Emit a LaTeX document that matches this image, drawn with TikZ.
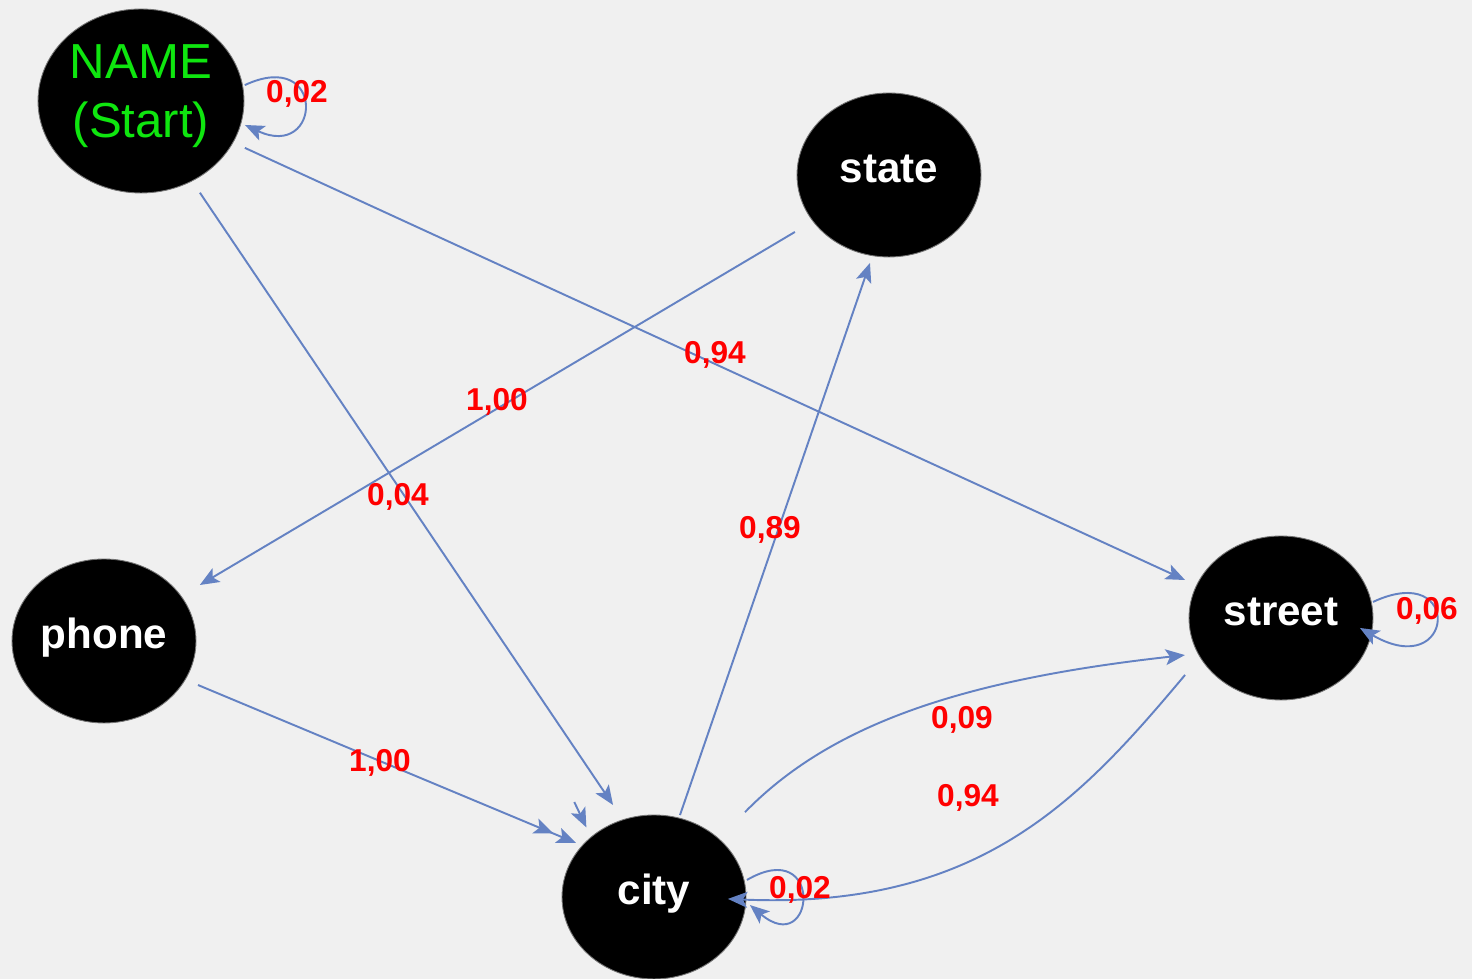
\documentclass[tikz,border=0pt]{standalone}
\usepackage{fontspec}
\setmainfont{Liberation Sans}
\usetikzlibrary{shapes.geometric,arrows.meta,calc}
\definecolor{edgeblue}{RGB}{100,130,195}
\definecolor{lblred}{RGB}{255,0,0}
\definecolor{startgreen}{RGB}{15,230,15}
\definecolor{bgcol}{RGB}{240,240,240}
\begin{document}
\begin{tikzpicture}[x=0.02cm,y=0.02cm,
  blob/.style={ellipse,fill=black,draw=black!55,line width=0.5pt,inner sep=0pt},
  statenode/.style={blob,minimum width=3.68cm,minimum height=3.28cm,text=white,
    font=\fontsize{24}{28}\selectfont\bfseries,text height=0.3cm,text depth=0cm},
  startnode/.style={blob,minimum width=4.12cm,minimum height=3.68cm,text=startgreen,
    font=\fontsize{28}{34}\selectfont},
  edge/.style={draw=edgeblue,line width=1.1pt,-{Stealth[length=11pt,width=9pt,inset=2.5pt]}},
  dedge/.style={draw=edgeblue,line width=1.1pt,-{Stealth[length=11pt,width=9pt,inset=2.5pt,sep=3pt] Stealth[length=11pt,width=9pt,inset=2.5pt]}},
  lbl/.style={text=lblred,font=\fontsize{18}{20}\selectfont\bfseries,inner sep=0pt}]
\fill[bgcol] (0,0) rectangle (1472,979);
\useasboundingbox (0,0) rectangle (1472,979);

% nodes
\node[startnode] (NAME) at (141,878) {\raisebox{0pt}[0.9cm][0.66cm]{\begin{tabular}{@{}c@{}}NAME\\(Start)\end{tabular}}};
\node[statenode] (state) at (889,804) {state};
\node[statenode] (phone) at (104,338) {phone};
\node[statenode] (city) at (654,82) {city};
\node[statenode] (street) at (1281,361) {street};

% straight edges
\draw[edge] ($(NAME)+(-24.3:114)$) -- ($(street)+(158.4:103.2)$);
\draw[edge] ($(NAME)+(-57.3:109)$) -- ($(city)+(114:100.7)$);
\draw[edge] ($(state)+(211.2:110)$) -- ($(phone)+(30.3:111)$);
\draw[dedge] ($(phone)+(-25.1:103.8)$) -- ($(city)+(145.3:94.9)$);
\draw[edge] ($(city)+(72.4:86)$) -- ($(state)+(257.8:90)$);
\draw[edge] ($(city)+(130:124)$) -- ($(city)+(134.2:97)$);

% curved edges
\draw[edge] ($(city)+(43:124.5)$) .. controls +(45.7:121.6) and +(186.3:226) .. ($(street)+(201.1:103)$);
\draw[edge] ($(street)+(210.7:111.6)$) .. controls +(230:163) and +(-2.5:252) .. ($(city)+(-1.5:74)$);

% loops
\draw[edge] ($(NAME)+(8.7:105)$) .. controls +(25:90) and +(-25:85) .. ($(NAME)+(-13:106.7)$);
\draw[edge] ($(city)+(10.4:94.5)$) .. controls +(30:90) and +(-40:85) .. ($(city)+(-4.8:96.3)$);
\draw[edge] ($(street)+(9.9:93.4)$) .. controls +(25:100) and +(-30:110) .. ($(street)+(-7.2:79.6)$);

% labels
\node[lbl] (lNN) at (297,885) {0,02};
\node[lbl] (lNS) at (715,624) {0,94};
\node[lbl] (lSP) at (497,577) {1,00};
\node[lbl] (lNC) at (398,482) {0,04};
\node[lbl] (lCS) at (770,449) {0,89};
\node[lbl] (lPC) at (380,216) {1,00};
\node[lbl] (lCT) at (962,259) {0,09};
\node[lbl] (lTC) at (968,181) {0,94};
\node[lbl] (lCC) at (800,89) {0,02};
\node[lbl] (lTT) at (1427,368) {0,06};
\end{tikzpicture}
\end{document}
